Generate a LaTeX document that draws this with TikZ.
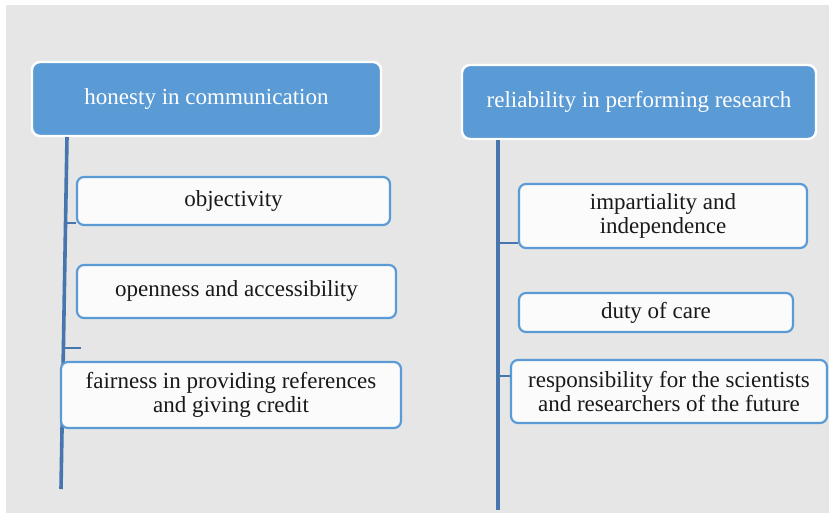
\documentclass[tikz,border=0pt]{standalone}
\usepackage{fontspec}
\setmainfont{Liberation Serif}
\usepackage{tikz}

\definecolor{headblue}{HTML}{5B9BD5}
\definecolor{spineblue}{HTML}{4676AD}
\definecolor{panelgray}{HTML}{E6E6E6}
\definecolor{itemfill}{HTML}{FBFBFB}

\tikzset{
  head/.style={draw=white, fill=headblue, line width=1.2pt, rounded corners=4pt, text=white, align=center, inner sep=0pt, font=\rmfamily\fontsize{11.5}{12}\selectfont},
  item/.style={draw=headblue, fill=itemfill, line width=1.1pt, rounded corners=3.5pt, text=black!90, align=center, inner sep=0pt, font=\rmfamily\fontsize{11.5}{12}\selectfont},
  spine/.style={draw=spineblue, line width=1.8pt},
  twig/.style={draw=spineblue, line width=1.4pt}
}

\begin{document}
\begin{tikzpicture}[x=0.5pt, y=-0.5pt]

\useasboundingbox (0,0) rectangle (829,513);
\fill[panelgray] (6,5) rectangle (829,513);

\node[head, minimum width=174.5pt, minimum height=37pt] (honesty) at (206.5,99) {honesty in communication};
\node[head, minimum width=177pt, minimum height=37pt] (reliability) at (639,102) {reliability in performing research};

\coordinate (ltop) at (67,137);
\coordinate (lbot) at (61,489);
\coordinate (rtop) at (498,140);
\coordinate (rbot) at (498,510);
\draw[spine] (ltop) -- (lbot);
\draw[spine] (rtop) -- (rbot);

\node[item, minimum width=156.5pt, minimum height=24pt] (objectivity) at (233.5,201) {objectivity};
\node[item, minimum width=159.5pt, minimum height=26.5pt] (openness) at (236.5,291.5) {openness and accessibility};
\node[item, minimum width=170pt, minimum height=33pt] (fairness) at (231,395) {fairness in providing references\\and giving credit};

\node[item, minimum width=144pt, minimum height=32pt] (impartiality) at (663,216) {impartiality and\\independence};
\node[item, minimum width=137pt, minimum height=19.5pt] (duty) at (656,312.5) {duty of care};
\node[item, minimum width=158pt, minimum height=31.5pt] (responsibility) at (669,391.5) {responsibility for the scientists\\and researchers of the future};

\coordinate (lj1) at (66,223);
\coordinate (lj2) at (65,348);
\coordinate (lstub) at (81,348);
\coordinate (rj1) at (498,243);
\coordinate (rj2) at (498,376);
\draw[twig] (lj1) -- (lj1 -| objectivity.west);
\draw[twig] (lj2) -- (lstub);
\draw[twig] (rj1) -- (rj1 -| impartiality.west);
\draw[twig] (rj2) -- (rj2 -| responsibility.west);

\end{tikzpicture}
\end{document}
